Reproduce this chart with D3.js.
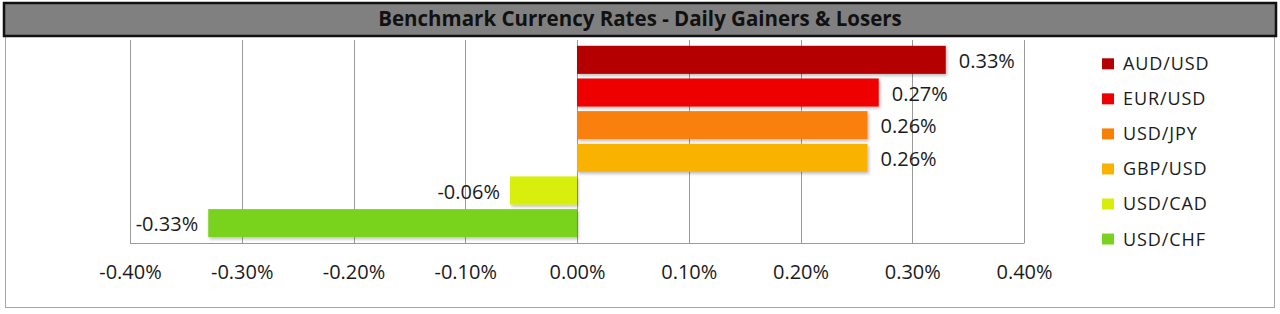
<!DOCTYPE html>
<html><head><meta charset="utf-8">
<script src="https://cdn.jsdelivr.net/npm/d3@7"></script>
<style>
html,body{margin:0;padding:0;background:#fff;}
svg{display:block;font-family:"Open Sans",Lato,sans-serif;}
</style></head>
<body>
<svg id="chart" width="1280" height="314"></svg>
<script>
const title = "Benchmark Currency Rates - Daily Gainers & Losers";
const categories = ["AUD/USD","EUR/USD","USD/JPY","GBP/USD","USD/CAD","USD/CHF"];
const values = [0.33, 0.27, 0.26, 0.26, -0.06, -0.33];
const colors = ["#B40000","#EE0000","#F98007","#F9B200","#D8EE0A","#79D31E"];
const tickValues = [-0.4,-0.3,-0.2,-0.1,0,0.1,0.2,0.3,0.4];

const fmt = v => d3.format(".2f")(v).replace("\u2212","-") + "%";

const svg = d3.select("#chart");
const defs = svg.append("defs");
const f = defs.append("filter").attr("id","shadow").attr("x","-5%").attr("y","-20%").attr("width","110%").attr("height","150%");
f.append("feDropShadow").attr("dx",1.5).attr("dy",2).attr("stdDeviation",1.5).attr("flood-color","#000").attr("flood-opacity",0.25);

// outer frame
svg.append("rect").attr("x",5.5).attr("y",36.5).attr("width",1269).attr("height",271)
  .attr("fill","#fff").attr("stroke","#a6a6a6").attr("stroke-width",1);
// title bar
svg.append("rect").attr("x",4).attr("y",3).attr("width",1272).attr("height",33)
  .attr("fill","#808080").attr("stroke","#111").attr("stroke-width",2.5);
svg.append("text").attr("x",640).attr("y",26).attr("text-anchor","middle")
  .attr("font-weight","bold").attr("font-size",20.5).attr("fill","#111").text(title);

const x = d3.scaleLinear().domain([-0.4,0.4]).range([130,1024]);
const plotTop = 40, plotBottom = 243;
const y = d3.scaleBand().domain(categories).range([43.5,239.5]).paddingInner(0.14).paddingOuter(0.07);

// gridlines
svg.append("g").selectAll("line").data(tickValues).join("line")
  .attr("x1",d=>Math.round(x(d))+0.5).attr("x2",d=>Math.round(x(d))+0.5)
  .attr("y1",plotTop).attr("y2",plotBottom)
  .attr("stroke","#9a9a9a").attr("stroke-width",1);
// bottom axis line
svg.append("line").attr("x1",130).attr("x2",1024.5).attr("y1",plotBottom+0.5).attr("y2",plotBottom+0.5)
  .attr("stroke","#9a9a9a");

// axis tick labels
const axis = d3.axisBottom(x).tickValues(tickValues).tickSize(0).tickPadding(0).tickFormat(fmt);
const ag = svg.append("g").attr("transform",`translate(0,${plotBottom+22})`).call(axis);
ag.select(".domain").remove();
ag.selectAll("text").attr("font-size",20).attr("fill","#1a1a1a").attr("font-family","'Open Sans',Lato,sans-serif");

// bars
svg.append("g").selectAll("rect").data(categories).join("rect")
  .attr("x",(d,i)=>x(Math.min(0,values[i])))
  .attr("width",(d,i)=>Math.abs(x(values[i])-x(0)))
  .attr("y",d=>y(d)).attr("height",y.bandwidth())
  .attr("fill",(d,i)=>colors[i]).attr("filter","url(#shadow)");

// value labels
svg.append("g").selectAll("text").data(categories).join("text")
  .attr("x",(d,i)=>values[i]>=0 ? x(values[i])+13 : x(values[i])-10)
  .attr("y",d=>y(d)+y.bandwidth()/2+1)
  .attr("dy","0.35em")
  .attr("text-anchor",(d,i)=>values[i]>=0?"start":"end")
  .attr("font-size",20).attr("fill","#1a1a1a")
  .text((d,i)=>fmt(values[i]));

// legend
const lg = svg.append("g").attr("transform","translate(1102,0)");
const row = lg.selectAll("g").data(categories).join("g")
  .attr("transform",(d,i)=>`translate(0,${63.8+i*35.05})`);
row.append("rect").attr("x",0).attr("y",-5.5).attr("width",12).attr("height",11)
  .attr("fill",(d,i)=>colors[i]);
row.append("text").attr("x",21).attr("dy","0.36em").attr("font-size",18).attr("letter-spacing",0.9)
  .attr("fill","#1a1a1a").text(d=>d);
</script>
</body></html>
